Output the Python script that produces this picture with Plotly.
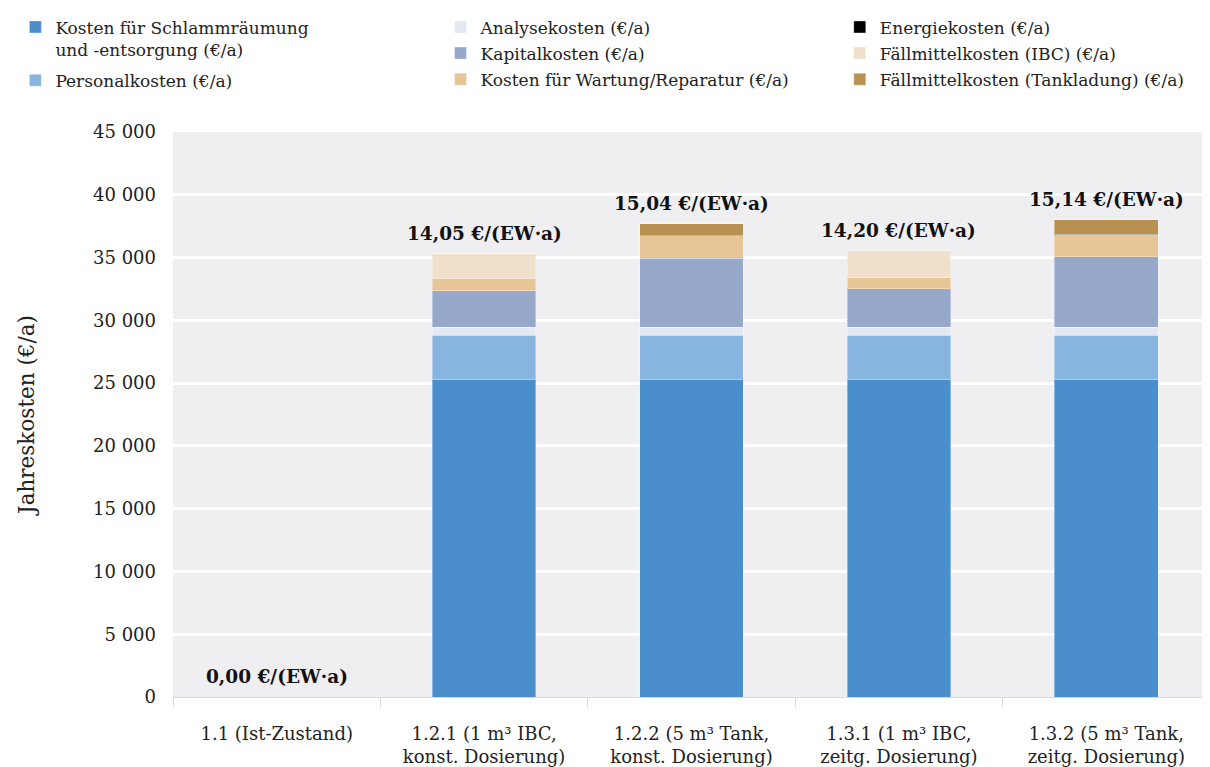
import plotly.graph_objects as go

categories = ["1.1 (Ist-Zustand)",
              "1.2.1 (1 m³ IBC,<br>konst. Dosierung)",
              "1.2.2 (5 m³ Tank,<br>konst. Dosierung)",
              "1.3.1 (1 m³ IBC,<br>zeitg. Dosierung)",
              "1.3.2 (5 m³ Tank,<br>zeitg. Dosierung)"]

schlamm = [0, 25250, 25250, 25250, 25250]
personal = [0, 3580, 3580, 3580, 3580]
analyse = [0, 600, 600, 600, 600]
kapital = [0, 2920, 5515, 3100, 5645]
wartung = [0, 950, 1775, 850, 1750]
energie = [0, 30, 30, 30, 30]
faell_ibc = [0, 1990, 0, 2150, 0]
faell_tank = [0, 0, 930, 0, 1145]

ew_labels = ["0,00 €/(EW·a)", "14,05 €/(EW·a)", "15,04 €/(EW·a)",
             "14,20 €/(EW·a)", "15,14 €/(EW·a)"]

series = [
    ("Kosten für Schlammräumung<br>und -entsorgung (€/a)", schlamm, "#4A8FCC", "legend"),
    ("Personalkosten (€/a)", personal, "#88B5DF", "legend"),
    ("Analysekosten (€/a)", analyse, "#E3E8F1", "legend2"),
    ("Kapitalkosten (€/a)", kapital, "#96A9CB", "legend2"),
    ("Kosten für Wartung/Reparatur (€/a)", wartung, "#E8C597", "legend2"),
    ("Energiekosten (€/a)", energie, "#000000", "legend3"),
    ("Fällmittelkosten (IBC) (€/a)", faell_ibc, "#F0E0CB", "legend3"),
    ("Fällmittelkosten (Tankladung) (€/a)", faell_tank, "#B89050", "legend3"),
]

FONT = "DejaVu Serif"
fig = go.Figure()
for i, (name, vals, col, lg) in enumerate(series):
    fig.add_trace(go.Bar(
        x=categories, y=vals, name=name, legend=lg, legendgroup=f"g{i}",
        marker=dict(color=col, line=dict(color="rgba(255,255,255,0.35)", width=1)),
    ))

totals = [sum(s[1][k] for s in series) for k in range(len(categories))]
for k, cat in enumerate(categories):
    fig.add_annotation(x=cat, y=totals[k], text=f"<b>{ew_labels[k]}</b>",
                       showarrow=False, yanchor="bottom", yshift=8,
                       font=dict(family=FONT, size=18.5, color="#111111"))

legend_common = dict(font=dict(family=FONT, size=17, color="#222222"),
                     bgcolor="rgba(0,0,0,0)", yanchor="top", xanchor="left",
                     valign="top", itemwidth=30)
fig.update_layout(
    width=1210, height=767,
    barmode="stack", bargap=0.5,
    separators=", ",
    paper_bgcolor="white", plot_bgcolor="#EFEFF2",
    margin=dict(l=165, r=8, t=124, b=78, autoexpand=False),
    font=dict(family=FONT, size=18, color="#222222"),
    legend=dict(x=-0.152, y=1.217, tracegroupgap=6, **legend_common),
    legend2=dict(x=0.258, y=1.217, tracegroupgap=1, **legend_common),
    legend3=dict(x=0.643, y=1.217, tracegroupgap=1, **legend_common),
    xaxis=dict(tickson="boundaries", ticks="outside", ticklen=9, tickcolor="#D9D9D9",
               showline=True, linecolor="#D9D9D9", showgrid=False,
               ticklabelstandoff=20,
               tickfont=dict(family=FONT, size=18, color="#222222")),
    yaxis=dict(range=[0, 45000], dtick=5000, tickformat=",d", showgrid=True,
               gridcolor="white", gridwidth=3, zeroline=False, ticks="",
               ticklabelstandoff=16,
               title=dict(text="Jahreskosten (€/a)", standoff=52,
                          font=dict(family=FONT, size=21.5, color="#222222")),
               tickfont=dict(family=FONT, size=18, color="#222222")),
)

fig.write_html("out.html")
